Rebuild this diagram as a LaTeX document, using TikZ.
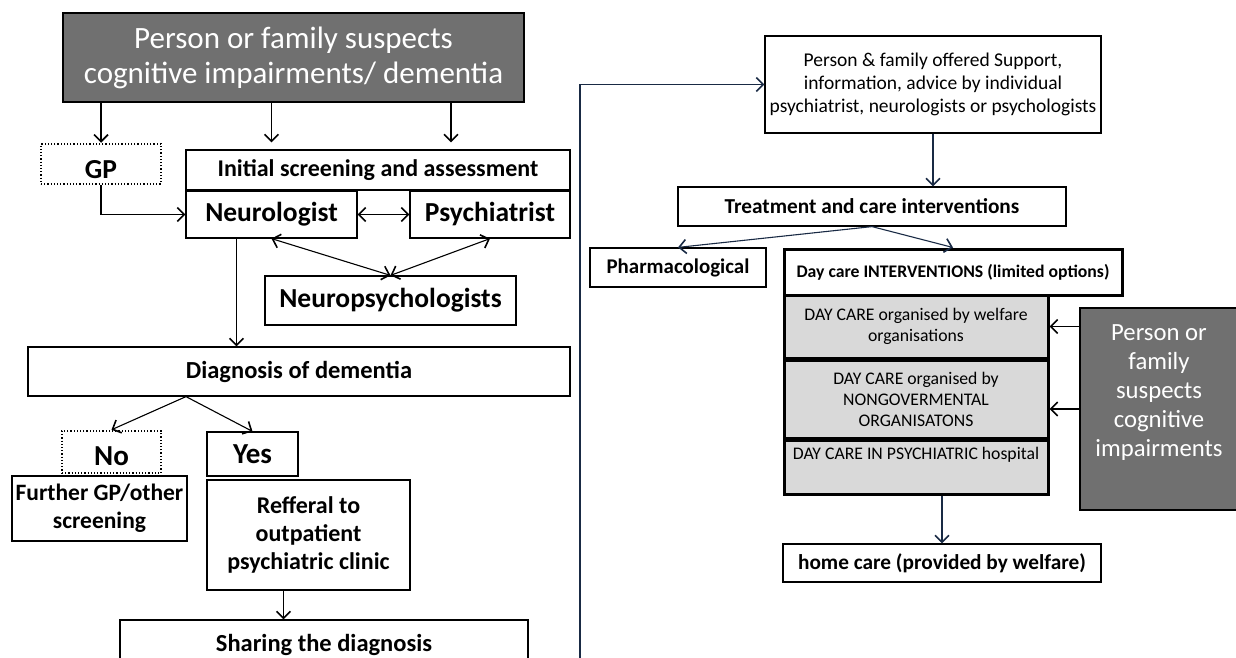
\documentclass[tikz,border=0pt]{standalone}
\usepackage{fontspec}
\setmainfont{Carlito}
\usetikzlibrary{arrows.meta}
\usetikzlibrary{calc}
\definecolor{oscuro}{RGB}{112,112,112}
\definecolor{claro}{RGB}{217,217,217}
\definecolor{marino}{RGB}{25,42,68}

\begin{document}
\begin{tikzpicture}[x=1pt,y=-1pt,line width=1.1pt,
  >={Straight Barb[length=7pt,width=14pt,line width=1.6pt]},
  fs/.style 2 args={font=\fontsize{#1}{#2}\selectfont},
  fb/.style 2 args={font=\fontsize{#1}{#2}\selectfont\bfseries},
  caja/.style={rectangle,draw,line width=1.2pt,align=center,inner sep=0pt},
  punt/.style={caja,dotted,line width=2.5pt},
  gris/.style={caja,fill=claro,line width=3pt},
  osc/.style={caja,fill=oscuro,text=white}]
\useasboundingbox (0,0) rectangle (1236,658);
\clip (0,0) rectangle (1236,658);
%left column
\path (293.5,57.5) node(top)[osc,minimum width=461pt,minimum height=89pt,fs={31}{35}]{Person or family suspects\\cognitive impairments/ dementia}
(101,164) node(gp)[punt,minimum width=120pt,minimum height=40pt,fb={27.5}{30}]{\raisebox{-6pt}[\height][\depth]{GP}}
(378,170) node(ini)[caja,minimum width=384pt,minimum height=40pt,fb={24}{28}]{Initial screening and assessment}
(271.5,214.5) node(neu)[caja,minimum width=171pt,minimum height=47pt,fb={27.5}{30}]{Neurologist}
(490,214.5) node(psy)[caja,minimum width=160pt,minimum height=47pt,fb={27.5}{30}]{Psychiatrist}
(390.5,300.5) node(nps)[caja,minimum width=251pt,minimum height=49pt,fb={27.5}{30}]{Neuropsychologists}
(299,371.5) node(diag)[caja,minimum width=542pt,minimum height=49pt,fb={24.5}{28}]{Diagnosis of dementia}
(111.5,452) node(no)[punt,minimum width=99pt,minimum height=42pt,fb={29}{30}]{\raisebox{-4pt}[\height][\depth]{No}}
(252.5,454) node(yes)[caja,minimum width=91pt,minimum height=44pt,fb={29}{30}]{Yes}
(99.5,508.5) node(fur)[caja,minimum width=175pt,minimum height=65pt,fb={23.5}{28}]{Further GP/other\\screening}
(308.5,535) node(ref)[caja,minimum width=203pt,minimum height=110pt,fb={24}{28}]{Refferal to\\outpatient\\psychiatric clinic}
(324,645) node(sha)[caja,minimum width=408pt,minimum height=50pt,fb={24.5}{28}]{Sharing the diagnosis};
%right column
\path (933,84.5) node(sup)[caja,minimum width=336pt,minimum height=97pt,fs={19.5}{23}]{Person \& family offered Support,\\information, advice by individual\\psychiatrist, neurologists or psychologists}
(872,206.5) node(tre)[caja,minimum width=388pt,minimum height=39pt,fb={21.3}{24}]{Treatment and care interventions}
(678,267.5) node(pha)[caja,minimum width=176pt,minimum height=39pt,fb={20.9}{24}]{Pharmacological}
(953,272) node(day)[caja,line width=3pt,minimum width=338pt,minimum height=46pt,fb={17.7}{21}]{Day care INTERVENTIONS (limited options)}
(916,326.5) node(wel)[gris,minimum width=264pt,minimum height=63pt,fs={17.7}{21}]{DAY CARE organised by welfare\\organisations}
(916,399) node(ngo)[gris,minimum width=264pt,minimum height=78pt,fs={17.7}{21}]{DAY CARE organised by\\NONGOVERMENTAL\\ORGANISATONS}
(916,467) node(hos)[gris,minimum width=264pt,minimum height=54pt,fs={17.7}{21}]{DAY CARE IN PSYCHIATRIC hospital\\\strut}
(1159,409) node(rg)[osc,minimum width=158pt,minimum height=202pt,fs={24.7}{29}]{Person or\\family\\suspects\\cognitive\\impairments\\\strut}
(942,563) node(hom)[caja,minimum width=318pt,minimum height=38pt,fb={21.3}{24}]{home care (provided by welfare)};
\draw[->](top.south -| gp.north)--(gp.north);
\draw[->,shorten >=7pt](top.south -| neu.north)--(neu.north |- ini.north);
\draw[->,shorten >=7pt]($(top.south -| psy.north)+(-39,0)$)--($(psy.north |- ini.north)+(-39,0)$);
\draw[->](gp.south)|-(neu.west);
\draw[<->](neu)--(psy);
\draw[<->](neu.south)--(nps.north);
\draw[<->](psy.south)--(nps.north);
\coordinate (n1) at ($(neu.south)+(-35,0)$);
\draw[->](n1)--(n1 |- diag.north);
\coordinate (d1) at ($(diag.south)+(-113,0)$);
\draw[->](d1)--(no.north);
\draw[->](d1)--(yes.north);
\coordinate (r1) at ($(ref.south)+(-25,0)$);
\draw[->](r1)--(r1 |- sha.north);
\coordinate (s0) at (580,660);
\draw[marino,->](s0)|-(sup.west);
\draw[marino,->](sup.south)--(sup.south |- tre.north);
\draw[marino,->](tre.south)--(pha.north);
\draw[marino,->](tre.south)--(day.north);
\draw[->](wel.east -| rg.west)--(wel.east);
\draw[->](rg.west)--(rg.west -| ngo.east);
\draw[marino,->](hos.south -| hom.north)--(hom.north);
\end{tikzpicture}
\end{document}
